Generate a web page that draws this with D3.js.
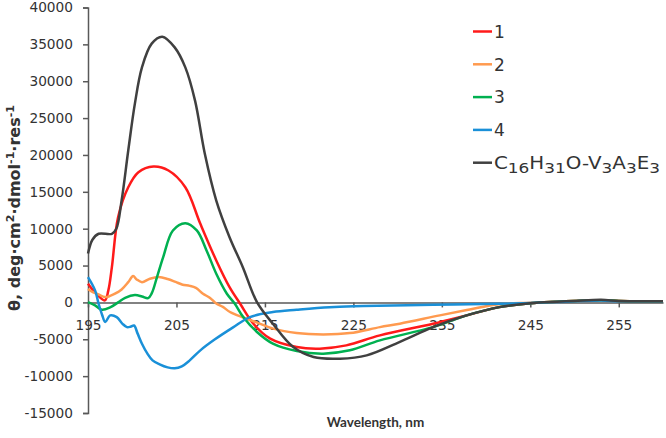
<!DOCTYPE html>
<html><head><meta charset="utf-8">
<script src="https://cdn.jsdelivr.net/npm/d3@7"></script>
<style>
body{margin:0;background:#fff;}
svg{display:block;}
text{font-family:"DejaVu Sans",sans-serif;}
</style></head><body>
<svg id="c" width="666" height="438"></svg>
<script>
// ---- data ----
const xTicks = [195, 205, 215, 225, 235, 245, 255];
const yTicks = [-15000, -10000, -5000, 0, 5000, 10000, 15000, 20000, 25000, 30000, 35000, 40000];
const seriesNames = ["1", "2", "3", "4", "C16H31O-V3A3E3"];
const seriesColors = ["#ff1a1a", "#ff9a4f", "#00b050", "#1a90d8", "#404040"];

const wl1 = [195.0,195.8,196.9,197.3,197.7,198.4,199.55,200.7,202.4,204.1,206.0,207.7,209.5,211.0,212.2,213.7,215.6,218.6,221.2,224.2,228.0,234.0,237.8,241.5,245,248,250,253,255,258,260];
const cd1 = [2530,1350,270,1630,4780,11560,15620,17660,18430,17890,15620,10660,5690,2070,-180,-2890,-4920,-6060,-6270,-5830,-4470,-2900,-1760,-640,-100,100,200,300,200,150,150];

const wl2 = [195.0,195.6,196.2,196.9,197.5,198.05,198.8,199.55,200.1,200.5,201.1,202.0,203.0,204.0,204.9,205.7,206.5,207.2,208.0,208.8,209.5,210.25,211.05,212.55,214.06,215.94,218.58,221.59,224.6,228.0,230.25,234.77,238.16,241.18,245,248,250,253,255,258,260];
const cd2 = [1830,1350,1080,720,880,1180,1760,2750,3590,3120,2750,3210,3430,3180,2780,2400,2240,1960,1180,610,-140,-610,-1300,-2050,-2700,-3560,-4160,-4340,-4160,-3350,-2890,-1760,-950,-270,-50,100,200,300,200,150,150];

const wl3 = [195.0,195.8,196.55,197.5,198.4,199.2,200.3,201.1,201.8,202.2,202.8,203.5,204.6,206.0,207.3,208.4,209.5,210.7,211.6,212.55,214.1,215.9,218.6,221.6,224.6,228.0,234.0,237.8,241.5,245,248,250,253,255,258,260];
const cd3 = [40,-410,-990,-680,0,610,990,810,580,1220,3430,6140,9760,10750,9760,7050,3890,1180,-180,-1990,-4020,-5600,-6600,-6950,-6500,-5150,-3350,-1760,-640,-100,100,200,300,200,150,150];

const wl4 = [195.0,195.8,196.2,196.6,196.95,197.5,198.25,198.9,199.4,199.8,200.2,200.6,201.1,201.7,202.3,203.1,204.0,204.8,205.6,206.5,207.7,209.35,211.4,213.3,215.9,218.6,222.3,226.1,234.0,241.5,245,248,250,253,255,258,260];
const cd4 = [3430,1630,-180,-1700,-2670,-1760,-1990,-2900,-3350,-3300,-3130,-4200,-5600,-6910,-7860,-8400,-8810,-8940,-8670,-7860,-6500,-5010,-3390,-1990,-1310,-990,-640,-500,-310,-180,-70,50,150,250,150,150,150];

const wl5 = [195.0,195.5,196.2,197.7,198.2,198.8,199.55,200.3,201.1,202.2,203.4,204.8,206.0,207.1,208.2,209.5,211.0,212.5,214.1,215.9,218.2,220.5,223.5,226.5,230.2,234.0,237.8,241.5,245,248,250,253,255,258,260];
const cd5 = [6640,8500,9310,9310,9990,13820,20600,26960,31880,35100,36040,34590,31880,27370,20190,13820,8850,4780,40,-2890,-6060,-7410,-7630,-7180,-5380,-3350,-1760,-640,-100,100,200,350,200,150,150];

const wls = [wl1, wl2, wl3, wl4, wl5];
const cds = [cd1, cd2, cd3, cd4, cd5];

// ---- chart ----
const svg = d3.select("#c");
const x = d3.scaleLinear().domain([195, 260]).range([88, 663]);
const y = d3.scaleLinear().domain([-15000, 40000]).range([413, 7.5]);
const axisColor = "#595959";
const textColor = "#333333";

// y axis
const ya = svg.append("g").attr("transform", `translate(${x(195)},0)`)
  .call(d3.axisLeft(y).tickValues(yTicks).tickSize(5).tickPadding(10).tickFormat(d => String(d)));
ya.select(".domain").attr("stroke", axisColor).attr("stroke-width", 1.5);
ya.selectAll(".tick line").attr("stroke", axisColor).attr("stroke-width", 1.5);
ya.selectAll(".tick text").attr("fill", textColor).style("font-size", "13.7px").style("font-family", "DejaVu Sans");

// x axis at zero
const xa = svg.append("g").attr("transform", `translate(0,${y(0)})`)
  .call(d3.axisBottom(x).tickValues(xTicks).tickSize(5).tickPadding(13).tickSizeOuter(0).tickFormat(d => String(d)));
xa.select(".domain").attr("stroke", axisColor).attr("stroke-width", 1.5);
xa.selectAll(".tick line").attr("stroke", axisColor).attr("stroke-width", 1.5);
xa.selectAll(".tick text").attr("fill", textColor).style("font-size", "13.7px").style("font-family", "DejaVu Sans");

// lines
const line = d3.line().x(d => x(d[0])).y(d => y(d[1])).curve(d3.curveCatmullRom.alpha(0.5));
[0, 1, 2, 3, 4].forEach(i => {
  const pts = wls[i].map((w, k) => [w, cds[i][k]]);
  svg.append("path").datum(pts).attr("d", line)
    .attr("fill", "none").attr("stroke", seriesColors[i]).attr("stroke-width", 2.5)
    .attr("stroke-linejoin", "round");
});

// axis titles
svg.append("text").attr("x", x(227.5)).attr("y", 427).attr("text-anchor", "middle")
  .attr("fill", textColor).style("font-family", "Lato").style("font-size", "13.5px").style("font-weight", "bold")
  .text("Wavelength, nm");

const yt = svg.append("text").attr("transform", "translate(20,208) rotate(-90)")
  .attr("text-anchor", "middle").attr("fill", textColor)
  .style("font-size", "16px").style("font-weight", "bold");
yt.append("tspan").text("θ, deg·cm");
yt.append("tspan").attr("dy", -6).style("font-size", "11px").text("2");
yt.append("tspan").attr("dy", 6).text("·dmol");
yt.append("tspan").attr("dy", -6).style("font-size", "11px").text("-1");
yt.append("tspan").attr("dy", 6).text("·res");
yt.append("tspan").attr("dy", -6).style("font-size", "11px").text("-1");

// legend
const leg = svg.append("g");
seriesNames.forEach((n, i) => {
  const cy = 31.5 + i * 32.8;
  leg.append("line").attr("x1", 473).attr("x2", 492).attr("y1", cy).attr("y2", cy)
    .attr("stroke", seriesColors[i]).attr("stroke-width", 2.5);
  const t = leg.append("text").attr("x", 494).attr("y", cy + 6.3).attr("fill", textColor)
    .style("font-size", "17px");
  if (i < 4) { t.text(n); }
  else {
    t.attr("textLength", 166).attr("lengthAdjust", "spacingAndGlyphs");
    const parts = [["C",0],["16",1],["H",0],["31",1],["O-V",0],["3",1],["A",0],["3",1],["E",0],["3",1]];
    let prevSub = false;
    parts.forEach(([s, sub]) => {
      const sp = t.append("tspan").text(s);
      if (sub) { sp.style("font-size", "14.5px"); if (!prevSub) sp.attr("dy", 4); }
      else if (prevSub) sp.attr("dy", -4);
      prevSub = !!sub;
    });
  }
});
</script>
</body></html>
